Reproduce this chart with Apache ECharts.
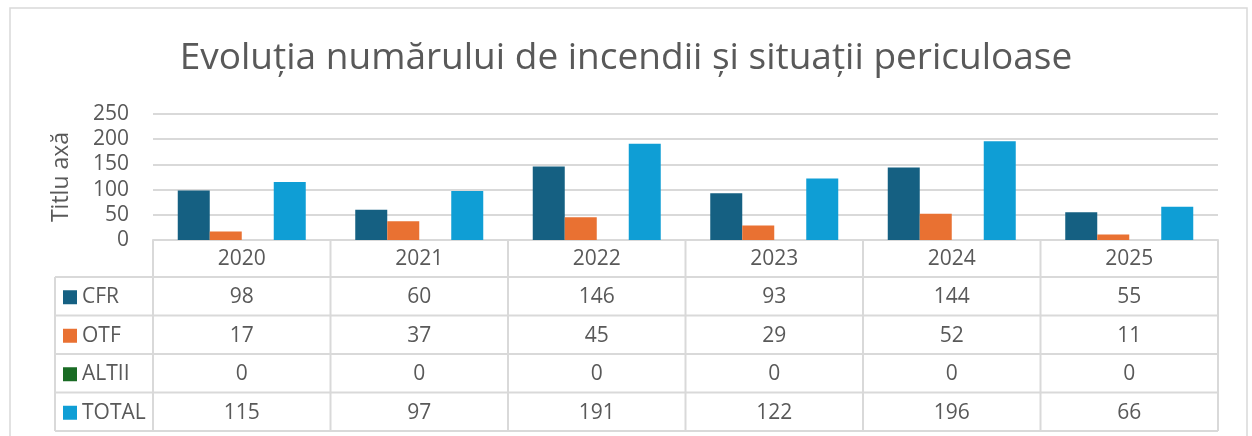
<!DOCTYPE html>
<html>
<head>
<meta charset="utf-8">
<script src="https://cdn.jsdelivr.net/npm/echarts@6/dist/echarts.min.js"></script>
<style>
  html, body { margin: 0; padding: 0; background: #ffffff; }
  #chart { width: 1252px; height: 436px; }
</style>
</head>
<body>
<div id="chart"></div>
<script>
// data
const years = ['2020', '2021', '2022', '2023', '2024', '2025'];
const cfr = [98, 60, 146, 93, 144, 55];
const otf = [17, 37, 45, 29, 52, 11];
const altii = [0, 0, 0, 0, 0, 0];
const total = [115, 97, 191, 122, 196, 66];
const seriesNames = ['CFR', 'OTF', 'ALTII', 'TOTAL'];
const seriesColors = ['#156082', '#E97132', '#196B24', '#0F9ED5'];
const titleText = 'Evoluția numărului de incendii și situații periculoase';
const axisName = 'Titlu axă';

const FONT = '"Open Sans", "Noto Sans", sans-serif';
const TEXT_COLOR = '#595959';
const LINE_COLOR = '#D9D9D9';

const chart = echarts.init(document.getElementById('chart'));
const seriesData = [cfr, otf, altii, total];

const option = {
  animation: false,
  textStyle: { fontFamily: FONT },
  title: {
    text: titleText,
    left: 'center',
    top: 35,
    textStyle: { color: TEXT_COLOR, fontSize: 37, fontWeight: 'normal', fontFamily: FONT },
  },
  grid: { left: 153, right: 34, top: 114, bottom: 196 },
  xAxis: {
    type: 'category',
    data: years,
    axisLabel: { show: false },
    axisTick: { show: false },
    axisLine: { show: true, lineStyle: { color: LINE_COLOR, width: 2 } },
  },
  yAxis: {
    type: 'value',
    min: 0,
    max: 250,
    interval: 50,
    name: axisName,
    nameLocation: 'middle',
    nameGap: 80,
    nameTextStyle: { color: TEXT_COLOR, fontSize: 23, fontFamily: FONT },
    axisLabel: { color: TEXT_COLOR, fontSize: 21, margin: 24, fontFamily: FONT },
    axisLine: { show: false },
    axisTick: { show: false },
    splitLine: { lineStyle: { color: LINE_COLOR, width: 2 } },
  },
  series: seriesNames.map((name, i) => ({
    name: name,
    type: 'bar',
    data: seriesData[i],
    barWidth: 32,
    barGap: '0%',
    itemStyle: { color: seriesColors[i] },
  })),
};
chart.setOption(option);

// data table under the plot, laid out from the axis scale
function buildTable() {
  const y0 = chart.convertToPixel({ yAxisIndex: 0 }, 0);
  const gridLeft = 153;
  const gridRight = 1252 - 34;
  const colW = (gridRight - gridLeft) / years.length;
  const legendLeft = 55;
  const headerH = 37;
  const rowH = 38.5;
  const bottom = y0 + headerH + rowH * seriesNames.length;
  const els = [];
  const line = (x1, y1, x2, y2) => ({
    type: 'line',
    shape: { x1: x1, y1: y1, x2: x2, y2: y2 },
    style: { stroke: LINE_COLOR, lineWidth: 2 },
    silent: true,
  });
  const text = (t, x, y, align) => ({
    type: 'text',
    x: x,
    y: y,
    style: {
      text: t,
      fill: TEXT_COLOR,
      font: '21px ' + FONT,
      align: align,
      verticalAlign: 'middle',
      textAlign: align,
      textVerticalAlign: 'middle',
    },
    silent: true,
  });

  // outer chart frame
  els.push({
    type: 'rect',
    shape: { x: 10, y: 8, width: 1237, height: 440 },
    style: { fill: 'none', stroke: LINE_COLOR, lineWidth: 1.5 },
    silent: true,
  });

  // horizontal rules
  for (let r = 0; r <= seriesNames.length; r++) {
    const yy = y0 + headerH + r * rowH;
    els.push(line(legendLeft, yy, gridRight, yy));
  }
  // vertical rules
  els.push(line(legendLeft, y0 + headerH, legendLeft, bottom));
  for (let c = 0; c <= years.length; c++) {
    const xx = gridLeft + c * colW;
    els.push(line(xx, y0, xx, bottom));
  }
  // header years
  years.forEach((yr, c) => {
    const cx = chart.convertToPixel({ xAxisIndex: 0 }, yr);
    els.push(text(yr, cx, y0 + headerH / 2 + 1, 'center'));
  });
  // rows
  seriesNames.forEach((name, r) => {
    const cy = y0 + headerH + r * rowH + rowH / 2 + 1;
    els.push({
      type: 'rect',
      shape: { x: 63, y: cy - 7, width: 14, height: 14 },
      style: { fill: seriesColors[r] },
      silent: true,
    });
    els.push(text(name, 82, cy, 'left'));
    seriesData[r].forEach((v, c) => {
      const cx = chart.convertToPixel({ xAxisIndex: 0 }, years[c]);
      els.push(text(String(v), cx, cy, 'center'));
    });
  });
  chart.setOption({ graphic: els });
}
buildTable();
</script>
</body>
</html>
